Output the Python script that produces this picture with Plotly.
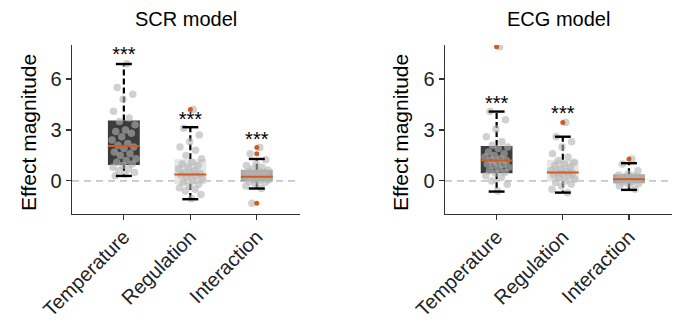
import numpy as np
import plotly.graph_objects as go

# ---------------- data ----------------
categories = ["Temperature", "Regulation", "Interaction"]
panels = ["SCR model", "ECG model"]

# box statistics per panel: [Temperature, Regulation, Interaction]
scr_q1 = [0.94, -0.18, -0.04]
scr_med = [2.06, 0.37, 0.25]
scr_q3 = [3.55, 1.27, 0.65]
scr_lo = [0.29, -1.08, -0.45]
scr_hi = [6.88, 3.16, 1.29]

ecg_q1 = [0.45, -0.04, -0.14]
ecg_med = [1.20, 0.49, 0.10]
ecg_q3 = [2.06, 1.24, 0.39]
ecg_lo = [-0.63, -0.69, -0.53]
ecg_hi = [4.08, 2.60, 1.04]

# outliers (fliers)
scr_fliers = [[], [4.2], [1.96, 1.59, -1.31]]
ecg_fliers = [[7.9], [3.43], [1.29]]

# individual subject values
scr_temp = [6.9, 5.5, 5.1, 4.8, 4.1, 3.7, 3.5, 3.3, 3.0, 2.9, 2.8, 2.6, 2.4, 2.2, 2.1,
            2.0, 1.9, 1.7, 1.6, 1.5, 1.3, 1.2, 1.1, 1.0, 0.9, 0.8, 0.7, 0.6, 0.5, 0.4, 0.3]
scr_reg = [4.2, 3.1, 2.7, 2.3, 2.0, 1.8, 1.5, 1.3, 1.1, 1.0, 0.9, 0.8, 0.7, 0.6, 0.5, 0.45,
           0.4, 0.35, 0.3, 0.2, 0.1, 0.0, -0.1, -0.2, -0.3, -0.4, -0.5, -0.6, -0.8, -1.05]
scr_int = [1.96, 1.59, 1.25, 1.0, 0.9, 0.8, 0.7, 0.62, 0.6, 0.55, 0.5, 0.45, 0.4, 0.35,
           0.3, 0.28, 0.25, 0.2, 0.15, 0.1, 0.05, 0.0, -0.05, -0.1, -0.2, -0.3, -0.45, -1.31]
ecg_temp = [7.9, 4.08, 3.6, 3.05, 2.6, 2.3, 2.1, 2.0, 1.9, 1.7, 1.6, 1.5, 1.4, 1.3, 1.25,
            1.2, 1.1, 1.0, 0.95, 0.9, 0.8, 0.7, 0.6, 0.5, 0.45, 0.3, 0.2, 0.0, -0.2, -0.6]
ecg_reg = [3.43, 2.6, 2.3, 2.0, 1.6, 1.4, 1.2, 1.1, 1.0, 0.9, 0.8, 0.7, 0.6, 0.55, 0.5,
           0.45, 0.4, 0.35, 0.3, 0.2, 0.1, 0.0, -0.1, -0.2, -0.3, -0.5, -0.7]
ecg_int = [1.29, 1.0, 0.6, 0.4, 0.35, 0.3, 0.25, 0.2, 0.15, 0.12, 0.1, 0.05, 0.0, -0.05,
           -0.1, -0.15, -0.2, -0.3, -0.5]

# significance markers
scr_sig = ["***", "***", "***"]
ecg_sig = ["***", "***", ""]
scr_star_y = [7.35, 3.55, 2.35]
ecg_star_y = [4.45, 3.85, 0.0]

# ---------------- styling ----------------
FONT = "Liberation Sans, Arial, Helvetica, sans-serif"
box_colors = ["#3c3c3c", "#e6e6e6", "#a3a3a3"]
orange = "#cf5d1e"
BOX_W = 0.48
CAP_W = 0.12

fig = go.Figure()

panel_data = [
    dict(q1=scr_q1, med=scr_med, q3=scr_q3, lo=scr_lo, hi=scr_hi, fl=scr_fliers,
         pts=[scr_temp, scr_reg, scr_int], sig=scr_sig, sy=scr_star_y),
    dict(q1=ecg_q1, med=ecg_med, q3=ecg_q3, lo=ecg_lo, hi=ecg_hi, fl=ecg_fliers,
         pts=[ecg_temp, ecg_reg, ecg_int], sig=ecg_sig, sy=ecg_star_y),
]


def jitter(n):
    return (np.array([((k + 1) * 0.6180339887) % 1.0 for k in range(n)]) - 0.5) * 0.38


for p, d in enumerate(panel_data):
    xa = "x" if p == 0 else "x2"
    ya = "y" if p == 0 else "y2"
    xs = np.arange(len(categories))
    q1 = np.array(d["q1"]); q3 = np.array(d["q3"])
    # boxes
    fig.add_trace(go.Bar(x=xs, y=q3 - q1, base=q1, width=BOX_W,
                         marker=dict(color=box_colors, line=dict(width=0)),
                         xaxis=xa, yaxis=ya, showlegend=False, hoverinfo="skip"))
    # whiskers
    wx, wy = [], []
    for i in range(len(categories)):
        wx += [i, i, None, i, i, None]
        wy += [d["q3"][i], d["hi"][i], None, d["q1"][i], d["lo"][i], None]
    fig.add_trace(go.Scatter(x=wx, y=wy, mode="lines",
                             line=dict(color="black", width=2.2, dash="6px,3px"),
                             xaxis=xa, yaxis=ya, showlegend=False, hoverinfo="skip"))
    # points
    for i, vals in enumerate(d["pts"]):
        fig.add_trace(go.Scatter(x=i + jitter(len(vals)), y=vals, mode="markers",
                                 marker=dict(color="#b2b2b2", size=7.5, opacity=0.6,
                                             line=dict(width=0)),
                                 xaxis=xa, yaxis=ya, showlegend=False, hoverinfo="skip"))
    # caps
    cx, cy = [], []
    for i in range(len(categories)):
        cx += [i - CAP_W, i + CAP_W, None, i - CAP_W, i + CAP_W, None]
        cy += [d["hi"][i], d["hi"][i], None, d["lo"][i], d["lo"][i], None]
    fig.add_trace(go.Scatter(x=cx, y=cy, mode="lines", line=dict(color="black", width=2.4),
                             xaxis=xa, yaxis=ya, showlegend=False, hoverinfo="skip"))
    # medians
    mx, my = [], []
    for i in range(len(categories)):
        mx += [i - BOX_W / 2, i + BOX_W / 2, None]
        my += [d["med"][i], d["med"][i], None]
    fig.add_trace(go.Scatter(x=mx, y=my, mode="lines", line=dict(color=orange, width=2),
                             xaxis=xa, yaxis=ya, showlegend=False, hoverinfo="skip"))
    # fliers
    fx, fy = [], []
    for i, fl in enumerate(d["fl"]):
        fx += [i] * len(fl)
        fy += fl
    fig.add_trace(go.Scatter(x=fx, y=fy, mode="markers",
                             marker=dict(color=orange, size=5, line=dict(width=0)),
                             xaxis=xa, yaxis=ya, showlegend=False, hoverinfo="skip"))
    # significance stars
    sx = [i for i, s in enumerate(d["sig"]) if s]
    fig.add_trace(go.Scatter(x=sx, y=[d["sy"][i] for i in sx], text=[d["sig"][i] for i in sx],
                             mode="text", textposition="middle center", cliponaxis=False,
                             textfont=dict(family=FONT, size=20, color="black"),
                             xaxis=xa, yaxis=ya, showlegend=False, hoverinfo="skip"))
    # zero line
    fig.add_shape(type="line", xref=f"{xa} domain", yref=ya, x0=0, x1=1, y0=0, y1=0,
                  line=dict(color="#c8c8c8", width=1.6, dash="7px,5px"), layer="below")

axis_common = dict(showline=True, linecolor="#333333", linewidth=1.4, ticks="outside",
                   ticklen=5, tickwidth=1.2, tickcolor="#333333", showgrid=False,
                   zeroline=False, automargin=False,
                   tickfont=dict(family=FONT, size=20, color="#222222"))

W, H = 674, 323
L, R, T, B = 72, 2, 45, 109
pw = W - L - R

xaxis_extra = dict(range=[-0.78, 2.65], tickvals=[0, 1, 2], ticktext=categories,
                   tickangle=-45, ticklabelstandoff=-3)
fig.update_layout(
    width=W, height=H, margin=dict(l=L, r=R, t=T, b=B),
    paper_bgcolor="white", plot_bgcolor="white", barmode="overlay",
    hovermode=False,
    xaxis=dict(domain=[0, (300 - L) / pw], anchor="y", **xaxis_extra, **axis_common),
    xaxis2=dict(domain=[(445 - L) / pw, 1], anchor="y2", **xaxis_extra, **axis_common),
    yaxis=dict(range=[-1.95, 8.0], tickvals=[0, 3, 6], anchor="x", **axis_common),
    yaxis2=dict(range=[-1.95, 8.0], tickvals=[0, 3, 6], anchor="x2", **axis_common),
)

ph = H - T - B
# panel titles
for p, (name, xc) in enumerate(zip(panels, [186, 558])):
    fig.add_annotation(text=name, xref="paper", yref="paper", x=(xc - L) / pw,
                       y=1 + (T - 19) / ph, showarrow=False, xanchor="center",
                       yanchor="middle", font=dict(family=FONT, size=20, color="black"))
# y-axis titles
for xc in [28, 400]:
    fig.add_annotation(text="Effect magnitude", xref="paper", yref="paper",
                       x=(xc - L) / pw, y=(214 - 133) / ph, showarrow=False,
                       textangle=-90, xanchor="center", yanchor="middle",
                       font=dict(family=FONT, size=21, color="black"))

fig.write_html("out.html", config={"displayModeBar": False, "staticPlot": True},
               post_script="document.body.style.margin='0';document.body.style.padding='0';")
